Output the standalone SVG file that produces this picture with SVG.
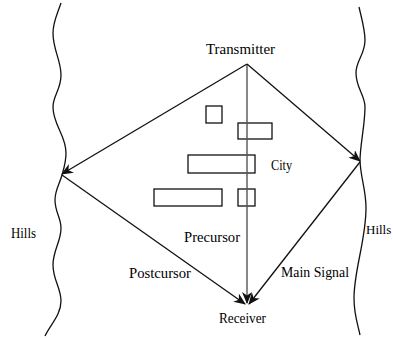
<svg xmlns="http://www.w3.org/2000/svg" width="393" height="338" viewBox="0 0 393 338">
<style>
text{font-family:"Liberation Serif","DejaVu Serif",serif;font-size:14px;fill:#000}
.hill{fill:none;stroke:#111;stroke-width:1.3}
.bld{fill:#fff;stroke:#111;stroke-width:1.3}
.ray{fill:none;stroke:#111;stroke-width:1.3}
.direct{fill:none;stroke:#555;stroke-width:1.4}
</style>
<defs>
<marker id="ah" viewBox="0 0 12 10" refX="11" refY="5" markerWidth="12" markerHeight="10" markerUnits="userSpaceOnUse" orient="auto">
<path d="M0,0 L12,5 L0,10 L3.5,5 Z" fill="#111"/>
</marker>
</defs>
<g id="hills-left">
<path class="hill" d="M61,3 C57,15 53,22 53,33 C53,50 61,60 61,75 C61,90 53,95 53,107 C53,125 66,135 66,153 C66,162 64,168 62,175 C60,183 55,190 55,200 C55,212 61,218 61,228 C61,242 53,250 53,265 C53,280 61,288 61,301 C61,315 50,325 45,336"/>
<text x="11" y="238" textLength="25" lengthAdjust="spacingAndGlyphs">Hills</text>
</g>
<g id="hills-right">
<path class="hill" d="M359,7 C362,20 365,30 365,40 C365,55 356,60 356,73 C356,88 365,95 365,107 C365,125 360,145 360,161 C361,180 366,190 366,208 C366,240 354,270 354,298 C354,315 358,325 360,335"/>
<text x="366" y="234" style="font-size:13px">Hills</text>
</g>
<g id="city">
<rect class="bld" x="206" y="106" width="16" height="17"/>
<rect class="bld" x="238" y="123" width="34" height="16"/>
<rect class="bld" x="188" y="155" width="67" height="18"/>
<rect class="bld" x="154" y="189" width="68" height="17"/>
<rect class="bld" x="238" y="189" width="17" height="17"/>
<text x="271" y="170" textLength="21" lengthAdjust="spacingAndGlyphs">City</text>
</g>
<g id="transmitter">
<text x="206" y="54" textLength="69" lengthAdjust="spacingAndGlyphs">Transmitter</text>
</g>
<g id="receiver">
<text x="219" y="323" textLength="47" lengthAdjust="spacingAndGlyphs">Receiver</text>
</g>
<g id="connectors">
<line class="direct" x1="247" y1="64" x2="247" y2="303" marker-end="url(#ah)"/>
<line class="ray" x1="247" y1="64" x2="62" y2="174" marker-end="url(#ah)"/>
<line class="ray" x1="247" y1="64" x2="360" y2="161" marker-end="url(#ah)"/>
<line class="ray" x1="62" y1="175" x2="245" y2="304" marker-end="url(#ah)"/>
<line class="ray" x1="360" y1="162" x2="249" y2="304" marker-end="url(#ah)"/>
<text x="184" y="242" textLength="56" lengthAdjust="spacingAndGlyphs">Precursor</text>
<text x="129" y="278" textLength="62" lengthAdjust="spacingAndGlyphs">Postcursor</text>
<text x="281" y="277" textLength="68" lengthAdjust="spacingAndGlyphs">Main Signal</text>
</g>
</svg>
